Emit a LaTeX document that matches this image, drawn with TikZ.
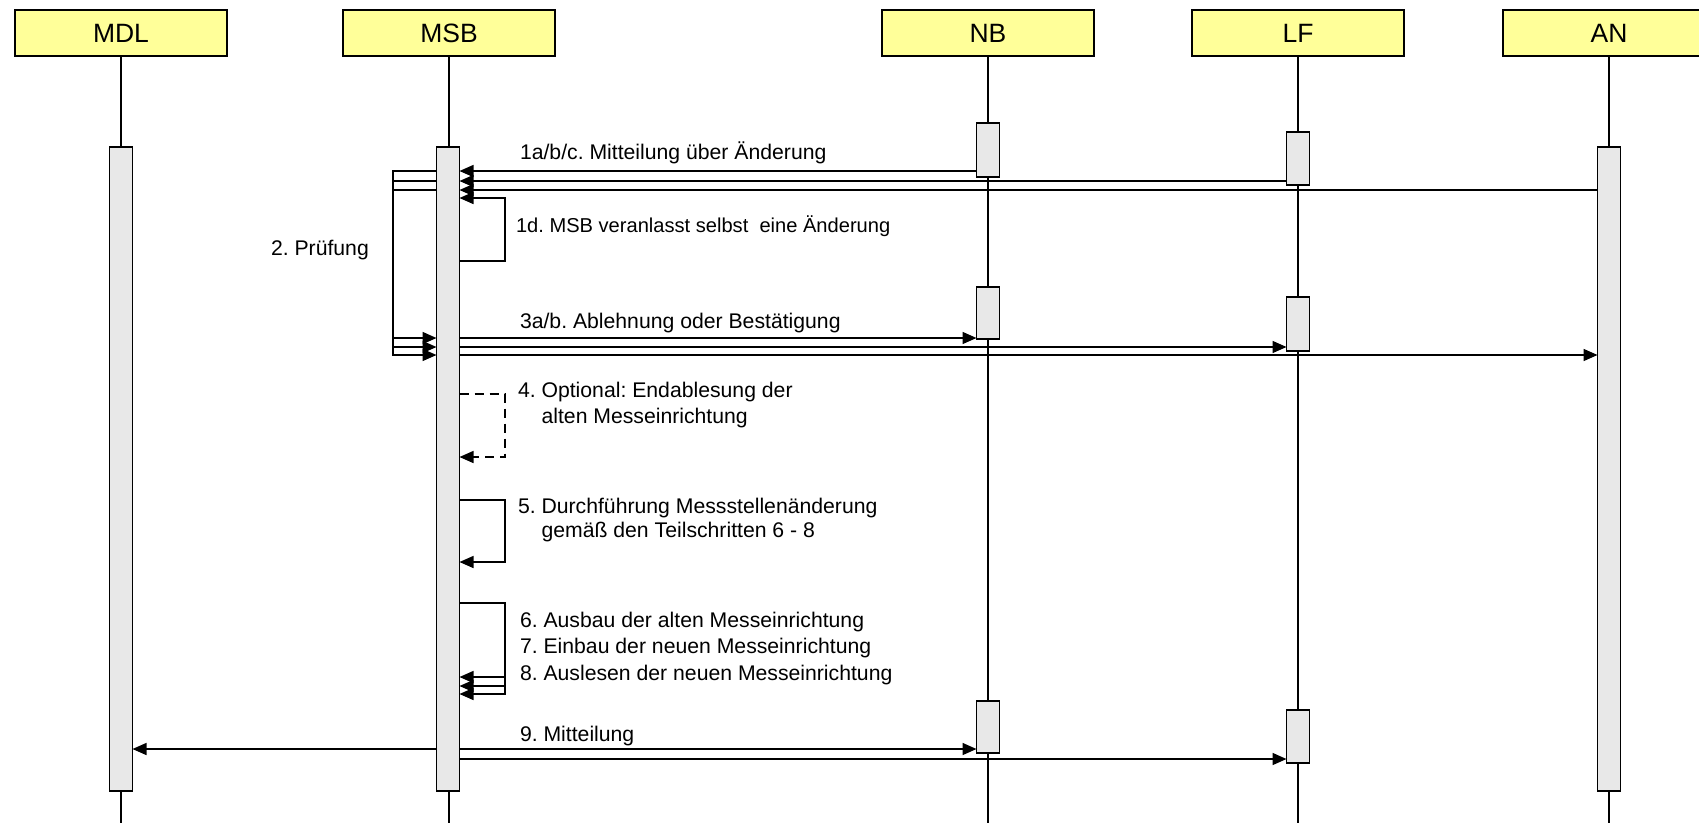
\documentclass[tikz,border=0pt]{standalone}
\usepackage{fontspec}
\setmainfont{Liberation Sans}
\usetikzlibrary{arrows.meta}
\definecolor{hdrfill}{HTML}{FFFF99}
\definecolor{barfill}{HTML}{E8E8E8}
\frenchspacing
\begin{document}
\begin{tikzpicture}[x=1pt,y=-1pt,
  every node/.style={inner sep=0pt,outer sep=0pt},
  hdr/.style={draw=black,line width=1.5pt,fill=hdrfill,minimum width=212pt,minimum height=46pt,font=\fontsize{26.5}{30}\selectfont},
  life/.style={line width=1.5pt},
  actbar/.style={draw=black,line width=1.5pt,fill=barfill,minimum width=23pt},
  msg/.style={line width=1.5pt,-{Triangle[length=14pt,width=12pt]}},
  dmsg/.style={msg,dash pattern=on 9pt off 6pt},
  lbl/.style={anchor=base west,font=\fontsize{21.2}{26}\selectfont,align=left}]
\useasboundingbox (0,0) rectangle (1699,823);
\coordinate (bot) at (0,823);
% headers
\node[hdr] (mdl) at (121,33) {MDL};
\node[hdr] (msbh) at (449,33) {MSB};
\node[hdr] (nbh) at (988,33) {NB};
\node[hdr] (lfh) at (1298,33) {LF};
\node[hdr] (anh) at (1609,33) {AN};
% lifelines
\foreach \h in {mdl,msbh,nbh,lfh,anh} \draw[life] (\h.south) -- (\h.south |- bot);
% activation bars
\node[actbar,minimum height=644pt] (mdlb) at (121,469) {};
\node[actbar,minimum height=644pt] (msb) at (448,469) {};
\node[actbar,minimum height=644pt] (an) at (1609,469) {};
\node[actbar,minimum height=54pt] (nb1) at (988,150) {};
\node[actbar,minimum height=53pt] (lf1) at (1298,158.5) {};
\node[actbar,minimum height=52pt] (nb2) at (988,313) {};
\node[actbar,minimum height=54pt] (lf2) at (1298,324) {};
\node[actbar,minimum height=52pt] (nb3) at (988,727) {};
\node[actbar,minimum height=53pt] (lf3) at (1298,736.5) {};
% y levels
\coordinate (ya) at (0,171);
\coordinate (yb) at (0,181);
\coordinate (yc) at (0,190);
\coordinate (yd) at (0,198);
\coordinate (ydb) at (0,261);
\coordinate (y3a) at (0,338);
\coordinate (y3b) at (0,347);
\coordinate (y3c) at (0,355);
\coordinate (xl) at (393,0);
\coordinate (xr) at (505,0);
% 1a/b/c
\draw[msg] (nb1.west |- ya) -- (msb.east |- ya);
\draw[msg] (lf1.west |- yb) -- (msb.east |- yb);
\draw[msg] (an.west |- yc) -- (msb.east |- yc);
\node[lbl] (t1) at (520,159) {1a/b/c. Mitteilung über Änderung};
% 1d
\draw[msg] (msb.east |- ydb) -- (xr |- ydb) -- (xr |- yd) -- (msb.east |- yd);
\node[lbl,font=\fontsize{20.1}{26}\selectfont] (t1d) at (516,232) {1d. MSB veranlasst selbst\ \ eine Änderung};
% 2 Pruefung loops
\draw[msg] (msb.west |- ya) -- (xl |- ya) -- (xl |- y3a) -- (msb.west |- y3a);
\draw[msg] (msb.west |- yb) -- (xl |- yb) -- (xl |- y3b) -- (msb.west |- y3b);
\draw[msg] (msb.west |- yc) -- (xl |- yc) -- (xl |- y3c) -- (msb.west |- y3c);
\node[lbl] (t2) at (271,255) {2. Prüfung};
% 3a/b
\draw[msg] (msb.east |- y3a) -- (nb2.west |- y3a);
\draw[msg] (msb.east |- y3b) -- (lf2.west |- y3b);
\draw[msg] (msb.east |- y3c) -- (an.west |- y3c);
\node[lbl] (t3) at (520,328) {3a/b. Ablehnung oder Bestätigung};
% 4 dashed
\coordinate (y4a) at (0,394);
\coordinate (y4b) at (0,457);
\draw[dmsg] (msb.east |- y4a) -- (xr |- y4a) -- (xr |- y4b) -- (msb.east |- y4b);
\node[lbl] (t4) at (518,423) {4. Optional: Endablesung der\\\hphantom{4. }alten Messeinrichtung};
% 5
\coordinate (y5a) at (0,500);
\coordinate (y5b) at (0,562);
\draw[msg] (msb.east |- y5a) -- (xr |- y5a) -- (xr |- y5b) -- (msb.east |- y5b);
\node[lbl] (t5) at (518,537) {5. Durchführung Messstellenänderung\\[-2pt]\hphantom{5. }gemäß den Teilschritten 6 - 8};
% 6-8
\coordinate (y6) at (0,603);
\coordinate (y6a) at (0,677);
\coordinate (y6b) at (0,686);
\coordinate (y6c) at (0,694);
\draw[msg] (msb.east |- y6) -- (xr |- y6) -- (xr |- y6a) -- (msb.east |- y6a);
\draw[msg] (msb.east |- y6) -- (xr |- y6) -- (xr |- y6b) -- (msb.east |- y6b);
\draw[msg] (msb.east |- y6) -- (xr |- y6) -- (xr |- y6c) -- (msb.east |- y6c);
\node[lbl] (t6) at (520,627) {6. Ausbau der alten Messeinrichtung};
\node[lbl] (t7) at (520,653) {7. Einbau der neuen Messeinrichtung};
\node[lbl] (t8) at (520,680) {8. Auslesen der neuen Messeinrichtung};
% 9
\coordinate (y9a) at (0,749);
\coordinate (y9b) at (0,759);
\draw[msg] (msb.west |- y9a) -- (mdlb.east |- y9a);
\draw[msg] (msb.east |- y9a) -- (nb3.west |- y9a);
\draw[msg] (msb.east |- y9b) -- (lf3.west |- y9b);
\node[lbl] (t9) at (520,741) {9. Mitteilung};
\end{tikzpicture}
\end{document}
